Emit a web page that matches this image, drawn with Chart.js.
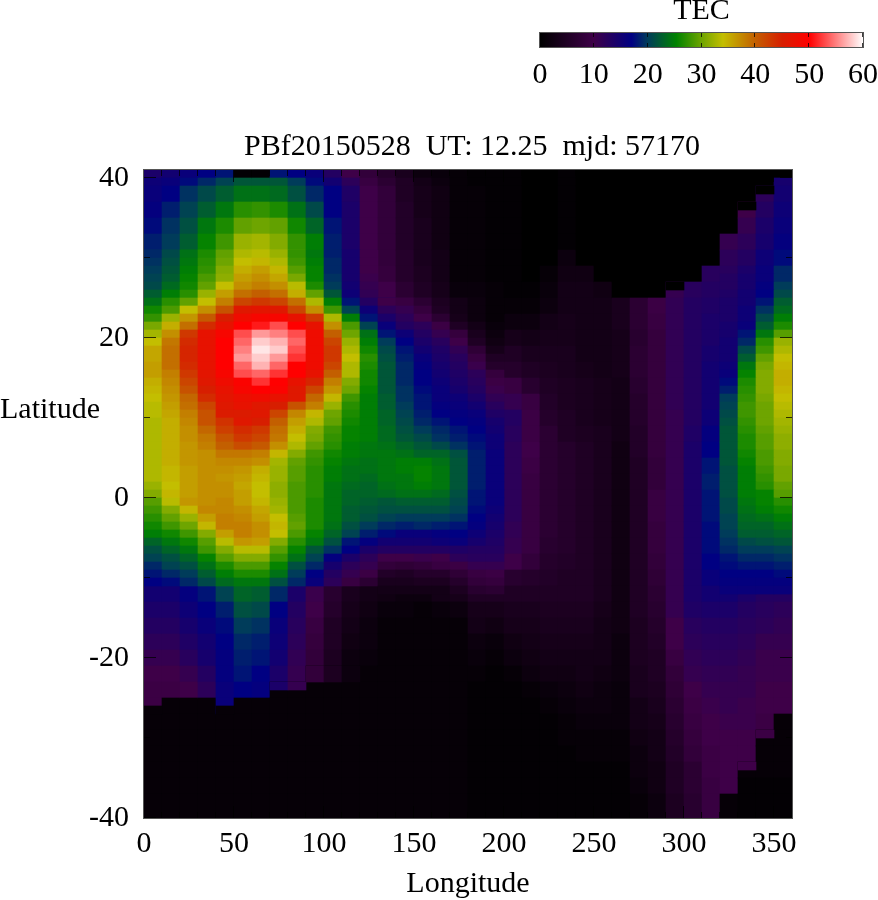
<!DOCTYPE html>
<html>
<head>
<meta charset="utf-8">
<title>TEC map</title>
<script src="https://cdn.jsdelivr.net/npm/chart.js@4"></script>
<style>
  html, body { margin: 0; background: #fff; }
  canvas { position: absolute; }
  #map { left: 0; top: 0; }
  #bar { left: 500px; top: -4px; }
</style>
</head>
<body>
<canvas id="map" width="878" height="900"></canvas>
<canvas id="bar" width="378" height="104"></canvas>
<script>
const plotTitle = 'PBf20150528  UT: 12.25  mjd: 57170';
const latTickValues = [-40, -30, -20, -10, 0, 10, 20, 30, 40];
const lonTickValues = [0, 10, 20, 30, 40, 50, 60, 70, 80, 90, 100, 110, 120, 130, 140, 150, 160, 170, 180, 190, 200, 210, 220, 230, 240, 250, 260, 270, 280, 290, 300, 310, 320, 330, 340, 350, 360];
const barTickValues = [0, 10, 20, 30, 40, 50, 60];

const lonStarts = [0, 10, 20, 30, 40, 50, 60, 70, 80, 90, 100, 110, 120, 130, 140, 150, 160, 170, 180, 190, 200, 210, 220, 230, 240, 250, 260, 270, 280, 290, 300, 310, 320, 330, 340, 350];
// row edges, top down (the top row sits above lat 40)
const latEdges = [41, 40, 39, 37, 35, 33, 31, 29, 27, 25, 23, 21, 19, 17, 15, 13, 11, 9, 7, 5, 3, 1, -1, -3, -5, -7, -9, -11, -13, -15, -17, -19, -21, -23, -25, -27, -29, -31, -33, -35, -37, -40];

// colour ramp
const rampValues = [0, 10, 17, 20, 25.3, 30, 34, 40, 45, 50, 60];
const rampColors = [[0, 0, 0], [62, 0, 72], [0, 0, 130], [0, 60, 90], [0, 130, 0], [110, 165, 0], [195, 190, 0], [195, 95, 0], [215, 30, 0], [255, 0, 0], [255, 255, 255]];

// coarse TEC per longitude column, one value per latitude row
const tecByLon = [
  [14,15.5,16,16.5,17.5,18.5,19.5,20.5,22,25,30,34,35.5,36,35,34,33,33,32.5,32,29,29,27,24,21.5,18.5,16,15,14,13,12,11,10,9.5,9.5,1,1,1,1,1,1],
  [15,16,17,18.5,19.5,20,21,22.5,25,28,34,37,39,39,38.5,36,35,35,34.5,35,33,32,29,26.5,22,20,17,15,14,13,12,11,10,9.5,1,1,1,1,1,1,1],
  [16,17.5,19.5,20.5,21.5,22.5,24,25.5,28,31,38,42,44,44,41,39,37.5,36,36,36.5,36,36,33,27.5,23.5,21,18,16.5,15.5,14.5,13.5,12.5,11,10,1,1,1,1,1,1,1],
  [17,19,21,22.5,24.5,25.5,26.5,28,32,34,42,46,47,47,46,43,41,39,37,37,37.5,38,36,31,25.5,22.5,20,18,17,16,15,14.5,13,12,1,1,1,1,1,1,1],
  [18,20.5,22.5,24.5,26.5,28,29,31,34.5,38,46,48,50,50,48,46,44,41,38,37,37,38,38,34,29,26,22,20.5,18.5,17.5,17,16.5,16.5,16,16,1,1,1,1,1,1],
  [0.5,22,24,27,29.5,32,33.5,35.5,39,44,49,53,56,54,50,48,45,42,39,36,36.5,37,38,35,31,27,24,23,21.5,20,19,18.5,18,17,1,1,1,1,1,1,1],
  [0.5,22,24,27.5,30,32.5,34,37,41,46,50,58,59,55,52,47.5,46,41,37,34.5,34,36,37.5,34,31,26.5,24,22.5,21,19.5,18.5,18,17,16.5,1,1,1,1,1,1,1],
  [18,22,23.5,26.5,29.5,31,32.5,34,40,45,51,57,56,52,50,47,44,38,34,32,31,33,34,34,29,25,21,19,17,16,15.5,15,14,1,1,1,1,1,1,1,1],
  [17,20,21.5,24,26,27.5,29,29.5,32,44,50,54,52,50,47,43,37,33,31,29,28,28,30,29,24,20,16,14,13,12.5,12,11.5,11,1,1,1,1,1,1,1,1],
  [16,17.5,19,21,23,25,25.5,26,30,37.5,46,48,48,47,43,37,33,29,27,27,25.5,27,27,23.5,18,15,12,10.5,10,9,8.5,8,1,1,1,1,1,1,1,1,1],
  [13,15,17,17,18,18.5,19,19.5,22,28,37.5,41,42.5,42,38,34,28,27,25.5,24,24,24.5,22,17,14,11,9,6.5,6,5,5,4.5,1,1,1,1,1,1,1,1,1],
  [10,12,13.5,14,14,14,14.5,15,16.5,20,26,31,34,33,30,27.5,26,25,24,23,22.5,22,20,15,12.5,9.5,6,4,3.5,3,2.5,2,1,1,1,1,1,1,1,1,1],
  [8,9,10,10,10,10,10.5,11.5,13,15.5,19.5,25,27,26.5,26,25,25,25,24.5,24,22.5,21.5,19,16,11.5,8,5,3,2.5,2,2,1.5,1,1,1,1,1,1,1,1,1],
  [6,7,8,8,8,8,8,8.5,10,13,15.5,18,21.5,22,22,22,23,24,24.5,24,22,21.5,19,16,10.5,7,3.5,2.5,1.5,1,1,1,1,1,1,1,1,1,1,1,1],
  [4,5,5,5.5,5.5,5.5,6,6,7,9.5,13,16,18.5,19,20,20.5,21.5,23,25,25,23,21.5,18,15,10,7,3.5,2,1.5,1,1,1,1,1,1,1,1,1,1,1,1],
  [2,3,3.5,3.5,4,4,4,4.5,5,7,9.5,14,16.5,17,17.5,18,19.5,21,22,25,24.5,21,18,15,10,7.5,4,2,1,1,1,1,1,1,1,1,1,1,1,1,1],
  [1.5,2,2.5,2.5,2.5,2.5,3,3,3.5,4.5,7.5,12.5,15,16,16.5,17,18.5,20,22,24,23,21,18,14.5,10.5,8,5,3,1.5,1,1,1,1,1,1,1,1,1,1,1,1],
  [1,1,1,1,1,1,1,1,1.5,2.5,5,9,12,14.5,16,17,18,19,20,20.5,20.5,20,17.5,14,12,9.5,6,3.5,2,1,1,1,1,1,1,1,1,1,1,1,1],
  [0.5,0.5,1,1,1,1,1,1,1.5,3,5,7,9.5,12,14,16,18,18.5,18.5,18,18,18,18,17.5,14,11.5,8,5,3.5,3,2,1.5,1,0.5,0.5,0.5,0.5,0.5,0.5,0.5,0.5],
  [0.5,0.5,0.5,0.5,0.5,0.5,0.5,0.5,1,2,3.5,5,7,9.5,12,14,15.5,16,16,15.5,15.5,15.5,15,14,13,11,7,5,3.5,2.5,1.5,1,0.5,0.5,0.5,0.5,0.5,0.5,0.5,0.5,0.5],
  [0.5,0.5,0.5,0.5,0.5,0.5,0.5,0.5,0.5,1,2,3.5,5,6,9,11,13,12.5,12,12,12,12,12,11.5,11,10,6.5,5,4,3.5,2.5,2,1,0.5,0.5,0.5,0.5,0.5,0.5,0.5,0.5],
  [0,0,0,0,0,0,0,0,0.5,1,2,3,4,5,6.5,9,9.5,9.5,10,9.5,9,9,9,9,9,8,6,5,4,3.5,3,2.5,2,1,0.5,0.5,0.5,0.5,0.5,0.5,0.5],
  [0,0,0,0,0,0,0,1,1.5,2,3,3.5,4,4.5,5,5.5,6,7,7,7,7,7,7,7,6.5,6,5.5,5,4.5,4,3.5,3,2.5,1.5,1,0.5,0.5,0.5,0.5,0.5,0.5],
  [0.5,0.5,0.5,0.5,0.5,0.5,2,2.5,3,3,3.5,3.5,4,4,4.5,4.5,5,5,6,6,6,6,6,6,6,5.5,5,5,4.5,4,3.5,3,2.5,2,1.5,1,1,0.5,0.5,0.5,0.5],
  [0,0,0,0,0,0,0,2.5,3,3,3,3,3,3.5,4,4,4,4.5,5,5,5,5,5,5,5,5,5,5,4.5,4,3.5,3,3,2.5,2,1.5,1,1,0.5,0.5,0.5],
  [0,0,0,0,0,0,0,0,2.5,3,3,3,3,3,3.5,3.5,3.5,4,4,4,4,4,4,4,4,4,4,4,3.5,3,3,3,2.5,2,2,1.5,1,1,0.5,0.5,0.5],
  [0,0,0,0,0,0,0,0,0,4,4,3.5,3.5,3.5,3,3,3,3,2.5,2.5,2.5,2.5,2.5,2.5,2.5,2.5,2.5,2.5,2.5,2.5,2,2,2,1.5,1.5,1.5,1,1,0.5,0.5,0.5],
  [0,0,0,0,0,0,0,0,0,7,7,6.5,7,7,6.5,6,6,5.5,5.5,5,5,5,5,5,5,5,5,5,5,4.5,4.5,4.5,4,4,3,3,2.5,2,2,1.5,1],
  [0,0,0,0,0,0,0,0,0,9.5,9,8.5,8.5,8.5,8.5,8.5,8.5,8.5,8.5,8,8,9,9,8.5,8.5,8,7.5,7,6.5,6,5.5,5,5,4.5,4,3.5,3,3,2.5,2.5,2],
  [0,0,0,0,0,0,0,0,11,11.5,11.5,11.5,11.5,11.5,11.5,11.5,11,11,11,11,11,11,11,11,11,11,11,11,11,10,10,9,8,7.5,7,6.5,6,5.5,5,5,4.5],
  [0,0,0,0,0,0,0,0,12.5,13,13,13,13,13,13,13,13,13.5,14,14,14,14,14,14,14,14,14,14,13.5,12.5,12,11.5,11,10,9.5,9,8.5,8,7,7,6.5],
  [0,0,0,0,0,0,0,12.5,13,13.5,14,14,14.5,15,15,15,15.5,16.5,17,18,18.5,18,18,17.5,17.5,17,16,15,14,13,12.5,12,11.5,11,10.5,10,10,9.5,9.5,9,9],
  [0,0,0,0,0,11,12,12.5,13.5,14,14.5,15,15.5,17,18.5,20,21,21.5,21.5,21,21,20,19,18,17.5,17,16,15,14,13,12.5,12,11.5,11,11,10.5,10,10,10,10,1],
  [0,0,0,10,11,12,13,14,15,16,17.5,20.5,22,25,27,27.5,27,25.5,25,25,27,24,22.5,19,16.5,16,15,14,13,12.5,12,11.5,11,11,10.5,10.5,10,10,1,0.5,0.5],
  [0,0,12,13,14,14.5,15.5,16,17,19.5,22.5,25,28.5,30,30,29.5,28.5,28,28,27,27.5,26,23.5,19.5,17,15.5,14,13,12.5,12,11,10.5,10.5,10,10,9.5,1,1,1,0.5,0.5],
  [0,14.5,15,15.5,16,16.5,17.5,19,21,24,27,31,33.5,34.5,33.5,32.5,32,31,30,29,28,26,23,19,17,16,14,13,12,11.5,11,10.5,10.5,10,10,1,1,1,1,0.5,0.5]
];

// 1 degree detail around the peak, row by row from lat 31 to lat -11, lon 0-130
const peakLons = [0, 10, 20, 30, 40, 50, 60, 70, 80, 90, 100, 110, 120];
const peakLatEdges = [31, 30, 29, 28, 27, 26, 25, 24, 23, 22, 21, 20, 19, 18, 17, 16, 15, 14, 13, 12, 11, 10, 9, 8, 7, 6, 5, 4, 3, 2, 1, 0, -1, -2, -3, -4, -5, -6, -7, -8, -9, -10, -11];
const peakRows = [
  [19,21,24,26.5,29.5,33,33.5,32,27.5,24.5,18.5,14.5,10],
  [19.5,21.5,24.5,27,30,34,34.5,33,28,25,19,14.5,10],
  [20,22,25,27.5,31,35,36,34.5,29,25.5,19,14.5,10],
  [20.5,22.5,25.5,28.5,31.5,36,37,35.5,30.5,25.5,19.5,14.5,10.5],
  [21,23.5,26,29.5,34,37,38,37,33.5,26.5,20,15,11],
  [22.5,25,27,32,36,39,40,39,35,29.5,22,15.5,11.5],
  [24,27,29.5,34,38,42,43,42,39,33,25,18,13],
  [26,28.5,34,37,41,46,46.5,46,42,37,28,20.5,15.5],
  [27.5,32,36.5,40.5,45,48,49,49,47,43,33,25,18],
  [30.5,35,39,44,47,50,51,53,50,47,37,28.5,20.5],
  [32.5,37,43,47,49,53,56,55,53,48,40,30,24],
  [34,38.5,44,47,50,54,58,57,54,48,42,32,25],
  [35.5,39,44.5,47,50,55,59,58,53,48,43,33,26],
  [35.5,39,44.5,47,50,56,58,56,52,48,43,34,27],
  [36,39,44,47,50,54,57,54,50,48,42,33,26.5],
  [36,38,43,46.5,49,53,54,52,50,47,40,33,26],
  [35,37.5,42,46,48,49.5,52,50,47,44.5,38,31,26],
  [34.5,37,41,45,47,49,50,49.5,46,42,36.5,30,25.5],
  [34,36.5,39.5,44,46.5,47.5,48,47,46,39.5,34.5,28,25],
  [33.5,36,39,42,46,47,46,45,41,38,32,27,25],
  [33.5,35.5,38,41,45.5,45.5,46,42,37.5,34.5,30,26.5,25],
  [33,35,37.5,41,43.5,46,45,40,36,33,29.5,26,25],
  [33,35,37,39.5,42.5,44,43,39,35,31,28,25.5,25],
  [33,35,37,38.5,41,43,42,38.5,34,30.5,27.5,25.5,25],
  [33,35,36.5,38,40,41.5,40.5,37,33,29.5,27,25,24.5],
  [33,35,36.5,37,38.5,38.5,38,34.5,31,28,26,25,24.5],
  [33,35,36.5,37,37.5,37.5,37,32.5,29.5,27.5,25.5,24.5,24],
  [33,34.5,36,37,37,36.5,35,32,29,27,25,24,24],
  [33,34.5,36,37,36.5,36,34.5,32,29,27,25,24,23.5],
  [32,34,36,37,37,35.5,34,31.5,28.5,27,24.5,23.5,23],
  [31,34.5,36,37,37,36,34,31.5,28.5,27,24.5,23,23],
  [29,33.5,36.5,37,37.5,36,34.5,32,28.5,26.5,24.5,23,22.5],
  [28,31,34.5,37.5,37.5,37,35.5,32.5,28.5,26.5,24.5,22.5,22],
  [27,29.5,32,36,38,37.5,36,34,29,26.5,24.5,22.5,21.5],
  [26,28,30,34.5,38,38,37,34.5,29.5,26.5,24,21.5,20],
  [25,26,28,31,36,38,37,34,28.5,25.5,23,20.5,18.5],
  [23,24.5,26,29,33.5,36.5,36,31,27,24.5,21.5,18,16.5],
  [21.5,23,24.5,28,31,33.5,33.5,29,25.5,22,19.5,17,14],
  [20.5,21.5,23,25.5,29,31,31,27.5,24,20.5,16.5,14,12],
  [19,20.5,21.5,24,26.5,28.5,28.5,25.5,21.5,19,14.5,12,11],
  [18,19,20,22.5,25,26.5,26.5,24,20,17,13,11,9.5],
  [17,17.5,19,21,23.5,24.5,24.5,21.5,19,16,12,9,7]
];

// 1 degree detail of the green tongue, lat 25 to -12, lon 130-200
const tongueLons = [130, 140, 150, 160, 170, 180, 190];
const tongueLatEdges = [25, 24, 23, 22, 21, 20, 19, 18, 17, 16, 15, 14, 13, 12, 11, 10, 9, 8, 7, 6, 5, 4, 3, 2, 1, 0, -1, -2, -3, -4, -5, -6, -7, -8, -9, -10, -11, -12];
const tongueRows = [
  [10,9,7,4.5,3,2,1],
  [12,11,8.5,5,3,2,1],
  [14,12,10,7,3.5,2,1],
  [16,13,12,9.5,5,3,1.5],
  [18,15.5,13,11,8.5,4,2],
  [20,17,14,12.5,10,5,2.5],
  [21,18,15,13.5,11.5,7.5,3.5],
  [21.5,18.5,16,14,12.5,9,5],
  [22,19,16.5,14.5,13,10.5,6],
  [22,19,17,15,13.5,12,8.5],
  [22,19,17,15.5,14,12.5,9.5],
  [22,19.5,17.5,16,14.5,13,10.5],
  [22.5,19.5,18,16,15.5,14,11.5],
  [22.5,20,18,16.5,16,15,12.5],
  [23,20.5,18.5,17,16.5,16,13.5],
  [23,21,19,18,17,16.5,14.5],
  [23.5,21.5,20,19,18,17,15],
  [23.5,22,21,19.5,18.5,17.5,15.5],
  [24,23,22,21,19.5,18,15.5],
  [24.5,24,23,23,21.5,18.5,16],
  [24.5,25,25,24,22,18.5,16],
  [24.5,25,25.5,24.5,22,18.5,16],
  [24.5,24.5,25.5,24.5,22,18.5,16],
  [24,24.5,25,24.5,22,18.5,16],
  [23.5,24,24,23.5,21.5,18,16],
  [22,22.5,22.5,22.5,21,18,16],
  [21.5,21.5,21.5,21.5,20.5,17.5,15.5],
  [20.5,20,20,20,19.5,17,15],
  [19,18.5,19,18.5,18,16.5,14.5],
  [17.5,16,16,16.5,17,15.5,14],
  [15,15,15,15.5,16,14.5,13.5],
  [13,13,13,13,13.5,13,13],
  [10,10,10.5,10,12,12.5,12.5],
  [8,7.5,8,9,9.5,11,11],
  [5.5,5,6,6,7.5,9,9.5],
  [4,4,4.5,4.5,6,8,8.5],
  [3,3,3,3,4.5,6.5,7]
];

// 1 degree detail of the right edge, lat 28 to -12, lon 320-360
const edgeLons = [320, 330, 340, 350];
const edgeLatEdges = [28, 27, 26, 25, 24, 23, 22, 21, 20, 19, 18, 17, 16, 15, 14, 13, 12, 11, 10, 9, 8, 7, 6, 5, 4, 3, 2, 1, 0, -1, -2, -3, -4, -5, -6, -7, -8, -9, -10, -11, -12];
const edgeRows = [
  [13,14.5,16,19],[13,14.5,16.5,20],[13.5,15,17,21],[14,15,18,22.5],[14,15.5,19.5,23.5],
  [14,15.5,21,25],[14.5,16,22.5,26.5],[14.5,18,24.5,29],[15,19,27,32],[15,21,28,33],
  [15,22.5,29.5,34],[15.5,24.5,30.5,34.5],[16,25.5,31,35],[17.5,26.5,31,35],[18.5,27,31,34.5],
  [20,27.5,30.5,34],[20.5,28,30,33.5],[21,28,30,33],[21.5,27.5,30,32.5],[22,27,29.5,32],
  [22,26.5,29,31.5],[22,26.5,29,31.5],[22,26,28.5,31],[22,25.5,28.5,31],[21.5,25,28,30.5],
  [21.5,25,27.5,30.5],[21.5,25,27,29.5],[21.5,25,25.5,29],[21,24.5,25.5,27],[21,24,25,26],
  [20.5,23.5,24,25],[20.5,23,23,24],[20,22.5,22.5,23],[19.5,21,21.5,22],[19,20,20,20.5],
  [18,19,19,19.5],[17.5,18,18,18.5],[17,17,17,17.5],[16.5,16.5,16.5,16.5],[16,16,16,16]
];

// single cells that set the exact steps of the dark edge
const stepLons = [0, 40, 70, 80, 90, 100, 110, 290, 330, 340, 330, 340];
const stepTops = [-26, -26, -23, -23, -21, -21, -21, 27, 37, 39, -33, -29];
const stepBottoms = [-27, -27, -24, -24, -23, -23, -23, 26, 36, 38, -34, -30];
const stepValues = [1, 1, 14, 11, 8, 4.5, 2, 0, 0, 0, 10, 9.5];

const serif = '"Liberation Serif", "Times New Roman", serif';
const textFont = { family: serif, size: 30, lineHeight: 1 };

function rgb(c) {
  return `rgb(${c[0]}, ${c[1]}, ${c[2]})`;
}

function colorFor(v) {
  let i = 0;
  while (i < rampValues.length - 2 && v > rampValues[i + 1]) i++;
  const t = Math.min(1, Math.max(0, (v - rampValues[i]) / (rampValues[i + 1] - rampValues[i])));
  return rgb(rampColors[i].map((c, k) => Math.round(c + (rampColors[i + 1][k] - c) * t)));
}

// one floating bar per cell, the finer rows are pushed last so they draw on top
const cells = [];
const cellColors = [];

function addCell(lon, top, bottom, v) {
  cells.push({ x: lon + 5, y: [bottom, top] });
  cellColors.push(colorFor(v));
}

lonStarts.forEach((lon, c) => {
  tecByLon[c].forEach((v, r) => addCell(lon, latEdges[r], latEdges[r + 1], v));
});

function addRows(lons, edges, rows) {
  rows.forEach((row, r) => {
    row.forEach((v, c) => addCell(lons[c], edges[r], edges[r + 1], v));
  });
}
addRows(peakLons, peakLatEdges, peakRows);
addRows(tongueLons, tongueLatEdges, tongueRows);
addRows(edgeLons, edgeLatEdges, edgeRows);
stepLons.forEach((lon, i) => addCell(lon, stepTops[i], stepBottoms[i], stepValues[i]));

// gnuplot style frame with inward ticks on all four sides
function frameTicks(xMajor, yMajor, xLen, yLen, xVals, yVals) {
  return {
    id: 'frameTicks',
    afterDatasetsDraw(chart) {
      const { ctx, chartArea: a, scales: { x, y } } = chart;
      ctx.save();
      ctx.lineWidth = 1;
      ctx.strokeStyle = 'rgba(0, 0, 0, 0.75)';
      ctx.beginPath();
      xVals.forEach((v) => {
        const px = Math.round(x.getPixelForValue(v)) - 0.5;
        const len = v % xMajor === 0 ? xLen[0] : xLen[1];
        ctx.moveTo(px, a.top); ctx.lineTo(px, a.top + len);
        ctx.moveTo(px, a.bottom); ctx.lineTo(px, a.bottom - len);
      });
      (yVals || []).forEach((v) => {
        const py = Math.round(y.getPixelForValue(v)) - 0.5;
        const len = v % yMajor === 0 ? yLen[0] : yLen[1];
        ctx.moveTo(a.left, py); ctx.lineTo(a.left + len, py);
        ctx.moveTo(a.right, py); ctx.lineTo(a.right - len, py);
      });
      ctx.stroke();
      ctx.strokeStyle = '#555';
      ctx.strokeRect(a.left - 0.5, a.top - 0.5, a.right - a.left + 1, a.bottom - a.top + 1);
      ctx.restore();
    }
  };
}

// gnuplot puts the y label flat, left of the axis, and the title is a bit off centre
const freeLabels = {
  id: 'freeLabels',
  afterDraw(chart) {
    const { ctx, scales: { y } } = chart;
    ctx.save();
    ctx.font = `30px ${serif}`;
    ctx.fillStyle = '#000';
    ctx.textBaseline = 'middle';
    ctx.textAlign = 'left';
    ctx.fillText('Latitude', 0, y.getPixelForValue(11));
    ctx.textAlign = 'center';
    ctx.fillText(plotTitle, 472, 147);
    ctx.restore();
  }
};

new Chart(document.getElementById('map'), {
  type: 'bar',
  data: {
    datasets: [{
      data: cells,
      backgroundColor: cellColors,
      borderWidth: 0,
      barPercentage: 1,
      categoryPercentage: 1
    }]
  },
  options: {
    responsive: false,
    animation: false,
    events: [],
    layout: { padding: { top: 170, right: 86, left: 0, bottom: 0 } },
    plugins: {
      legend: { display: false },
      tooltip: { enabled: false }
    },
    scales: {
      x: {
        type: 'linear',
        min: 0,
        max: 360,
        offset: false,
        grid: { display: false },
        border: { display: false },
        afterFit(scale) { scale.height = 82; },
        ticks: { stepSize: 50, includeBounds: false, autoSkip: false, maxRotation: 0, color: '#000', font: textFont, padding: 3 },
        title: { display: true, text: 'Longitude', color: '#000', font: textFont, padding: { top: 0, bottom: 1 } }
      },
      y: {
        type: 'linear',
        min: -40,
        max: 41,
        grid: { display: false, drawTicks: false },
        border: { display: false },
        afterFit(scale) { scale.width = 144; },
        ticks: { stepSize: 20, includeBounds: false, autoSkip: false, color: '#000', font: textFont, padding: 15 }
      }
    }
  },
  plugins: [frameTicks(50, 20, [12, 6], [12, 6], lonTickValues, latTickValues), freeLabels]
});

new Chart(document.getElementById('bar'), {
  type: 'bar',
  data: {
    labels: ['TEC'],
    datasets: [{
      data: [[0, 60]],
      borderWidth: 0,
      barPercentage: 1,
      categoryPercentage: 1,
      backgroundColor(c) {
        const a = c.chart.chartArea;
        if (!a) return '#000';
        const g = c.chart.ctx.createLinearGradient(a.left, 0, a.right, 0);
        rampValues.forEach((v, i) => g.addColorStop(v / 60, rgb(rampColors[i])));
        return g;
      }
    }]
  },
  options: {
    indexAxis: 'y',
    responsive: false,
    animation: false,
    events: [],
    plugins: {
      legend: { display: false },
      tooltip: { enabled: false },
      title: {
        display: true,
        text: 'TEC',
        fullSize: false,
        color: '#000',
        font: { family: serif, size: 30, weight: 'normal', lineHeight: 1 },
        padding: { top: 0, bottom: 7 }
      }
    },
    scales: {
      x: {
        type: 'linear',
        min: 0,
        max: 60,
        grid: { display: false },
        border: { display: false },
        afterFit(scale) { scale.height = 53; scale.paddingRight = 15; scale.paddingLeft = 0; },
        ticks: { stepSize: 10, autoSkip: false, maxRotation: 0, color: '#000', font: textFont, padding: 5 }
      },
      y: {
        display: false,
        afterFit(scale) { scale.width = 40; }
      }
    }
  },
  plugins: [frameTicks(10, 10, [4, 4], [0, 0], barTickValues, null)]
});
</script>
</body>
</html>
